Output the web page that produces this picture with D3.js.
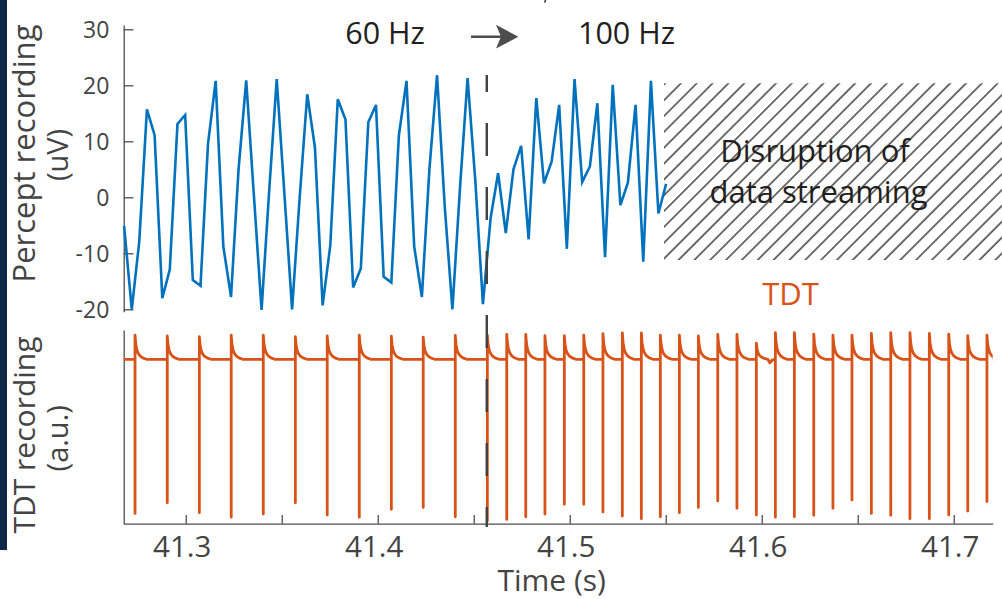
<!DOCTYPE html>
<html>
<head>
<meta charset="utf-8">
<script src="https://cdn.jsdelivr.net/npm/d3@7"></script>
<style>
  html, body { margin: 0; padding: 0; background: #fff; }
  svg { display: block; }
</style>
</head>
<body>
<script>
// ---------------- DATA ----------------
const perceptTime = [41.2679,41.2719,41.2758,41.2798,41.2838,41.2878,41.2917,41.2957,41.2997,41.3037,
  41.3077,41.3116,41.3156,41.3196,41.3236,41.3275,41.3315,41.3355,41.3395,41.3434,
  41.3474,41.3514,41.3554,41.3593,41.3633,41.3673,41.3713,41.3753,41.3792,41.3832,
  41.3872,41.3912,41.3951,41.3991,41.4031,41.4071,41.4110,41.4150,41.4190,41.4230,
  41.4269,41.4309,41.4349,41.4389,41.4429,41.4468,41.4508,41.4548,41.4588,41.4627,
  41.4667,41.4707,41.4747,41.4786,41.4826,41.4866,41.4906,41.4945,41.4985,41.5025,
  41.5065,41.5105,41.5144,41.5184,41.5224,41.5264,41.5303,41.5343,41.5383,41.5423,
  41.5462,41.5502];
const perceptUV = [-5.1,-20.0,-7.9,15.7,11.1,-18.0,-12.9,13.1,14.7,-14.8,
  -15.8,9.5,20.8,-8.8,-17.8,4.9,20.9,0.4,-20.1,0.8,
  21.1,0.6,-20.0,-0.3,18.4,8.9,-19.3,-8.6,17.5,13.9,
  -16.1,-12.7,13.4,16.5,-14.2,-15.2,11.0,20.8,-8.8,-17.8,
  4.9,21.8,-1.6,-20.0,1.9,21.3,3.1,-19.1,-3.7,4.3,
  -6.4,5.0,9.2,-7.5,17.7,2.5,6.4,16.5,-9.2,21.1,
  2.7,5.5,16.8,-10.7,20.1,-1.4,2.6,16.5,-11.5,20.8,
  -2.9,2.4];

const tdtPulseTime = [41.2736,41.2904,41.3071,41.3237,41.3404,41.3571,41.3737,41.3904,41.4071,41.4237,41.4404,41.4571,
  41.4672,41.4771,41.4871,41.4972,41.5073,41.5173,41.5274,41.5373,41.5472,41.5571,41.5670,41.5771,41.5871,
  41.5972,41.6071,41.6170,41.6271,41.6371,41.6470,41.6571,41.6672,41.6772,41.6873,41.6974,41.7073,41.7173];
const tdtPulseTop = [1.01,0.97,0.94,1.01,1.01,0.94,0.97,1.01,0.96,0.92,1.00,1.01,
  1.04,1.04,0.98,0.98,1.01,1.07,1.10,1.10,1.01,1.01,0.97,1.04,1.04,
  0.67,1.11,1.11,1.05,1.01,1.01,1.08,1.11,1.11,1.08,1.05,0.98,1.01];
const tdtPulseBottom = [-6.42,-5.98,-6.39,-6.58,-6.45,-5.98,-6.49,-6.58,-6.25,-6.17,-6.56,-6.74,
  -6.67,-6.56,-6.45,-6.04,-6.04,-6.36,-6.53,-6.64,-6.56,-6.39,-6.17,-5.90,-6.21,
  -6.49,-6.58,-6.56,-6.50,-6.21,-5.86,-6.42,-6.50,-6.64,-6.64,-6.49,-6.32,-5.93];
// shape of the artifact decay after each pulse (offset in s, fraction of pulse top)
const tdtDecayOffset = [0, 0.0004, 0.0009, 0.0016, 0.0026, 0.0040, 0.0060];
const tdtDecayFrac   = [1, 0.62, 0.40, 0.25, 0.14, 0.06, 0];
// small baseline notch after the 41.597 s pulse
const tdtNotchTime = [41.6034, 41.6042, 41.6056];
const tdtNotchValue = [-0.02, -0.15, -0.02];

const xTickValues = [41.3,41.35,41.4,41.45,41.5,41.55,41.6,41.65,41.7];
const xTickLabels = ["41.3","","41.4","","41.5","","41.6","","41.7"];
const yTickValues = [-20,-10,0,10,20,30];
const yTickLabels = ["-20","-10","0","10","20","30"];

const switchTime = 41.4568;
const disruptionTime = [41.5491, 41.7260];
const disruptionUV = [-11.2, 20.36];

// ---------------- LAYOUT ----------------
const W = 1002, H = 599;
const FONT = "'Open Sans', 'Noto Sans', sans-serif";
const AXIS = "#4d4d4d", TEXT = "#444", DARK = "#231f20";
const BLUE = "#0072bd", ORANGE = "#d95319";

const svg = d3.select("body").append("svg").attr("width", W).attr("height", H)
  .style("background", "#fff");

const x = d3.scaleLinear().domain([41.2677, 41.7203]).range([123.7, 992.7]);
const yP = d3.scaleLinear().domain([-20.43, 30.77]).range([311.7, 25]);
const yT = d3.scaleLinear().domain([-6.85, 1.22]).range([523.7, 330]);

// dark strip at left edge
svg.append("rect").attr("x", 0).attr("y", 0).attr("width", 7).attr("height", 550).attr("fill", "#0e2849");

// hatch pattern
const defs = svg.append("defs");
const pat = defs.append("pattern").attr("id", "hatch").attr("patternUnits", "userSpaceOnUse")
  .attr("width", 11.2).attr("height", 20).attr("patternTransform", "translate(664,83) rotate(45)");
pat.append("line").attr("x1", 1).attr("y1", 0).attr("x2", 1).attr("y2", 20)
  .attr("stroke", "#111").attr("stroke-width", 1.2);

defs.append("clipPath").attr("id", "clipT").append("rect")
  .attr("x", 123.7).attr("y", 320).attr("width", 992.7 - 123.7).attr("height", 210);

// ---------------- TOP PANEL ----------------
const gTopAxis = svg.append("g").attr("transform", "translate(123.7,0)")
  .call(d3.axisLeft(yP).tickValues(yTickValues).tickFormat((d, i) => yTickLabels[i])
    .tickSizeInner(-9.7).tickSizeOuter(0).tickPadding(14.4));
gTopAxis.select(".domain").attr("stroke", AXIS).attr("stroke-width", 1.3);
gTopAxis.selectAll(".tick line").attr("stroke", AXIS).attr("stroke-width", 1.3);
gTopAxis.selectAll(".tick text").attr("fill", TEXT).style("font-family", FONT).style("font-size", "23px")
  .attr("dy", "0.36em");

// hatched disruption area
svg.append("rect")
  .attr("x", x(disruptionTime[0])).attr("y", yP(disruptionUV[1]))
  .attr("width", x(disruptionTime[1]) - x(disruptionTime[0]))
  .attr("height", yP(disruptionUV[0]) - yP(disruptionUV[1]))
  .attr("fill", "url(#hatch)");

const perceptData = perceptTime.map((t, i) => [t, perceptUV[i]]);
svg.append("path").datum(perceptData)
  .attr("d", d3.line().x(d => x(d[0])).y(d => yP(d[1])))
  .attr("fill", "none").attr("stroke", BLUE).attr("stroke-width", 2.6).attr("stroke-linejoin", "miter");

svg.append("text").attr("x", 815).attr("y", 162).attr("text-anchor", "middle")
  .style("font-family", FONT).style("font-size", "31px").attr("fill", DARK).text("Disruption of");
svg.append("text").attr("x", 818.5).attr("y", 203).attr("text-anchor", "middle")
  .style("font-family", FONT).style("font-size", "31px").attr("fill", DARK).text("data streaming");

// ---------------- BOTTOM PANEL ----------------
const gBotLeft = svg.append("g").attr("transform", "translate(123.7,0)")
  .call(d3.axisLeft(yT).tickValues([]).tickSizeOuter(0));
gBotLeft.select(".domain").attr("stroke", AXIS).attr("stroke-width", 1.3);

const gX = svg.append("g").attr("transform", "translate(0,523.7)")
  .call(d3.axisBottom(x).tickValues(xTickValues).tickFormat((d, i) => xTickLabels[i])
    .tickSizeInner(-8.7).tickSizeOuter(0));
gX.select(".domain").attr("stroke", AXIS).attr("stroke-width", 1.3);
gX.selectAll(".tick line").attr("stroke", AXIS).attr("stroke-width", 1.3);
gX.selectAll(".tick text").attr("fill", TEXT).style("font-family", FONT).style("font-size", "29.5px")
  .attr("y", 33).attr("dy", 0).attr("x", -4);

// TDT trace built from pulses
const tdtPts = [[x.domain()[0], 0]];
tdtPulseTime.forEach((t, i) => {
  tdtPts.push([t, 0], [t, tdtPulseBottom[i]], [t, tdtPulseTop[i]]);
  tdtDecayOffset.forEach((o, k) => { if (k > 0) tdtPts.push([t + o, tdtPulseTop[i] * tdtDecayFrac[k]]); });
  if (i === 25) tdtNotchTime.forEach((nt, k) => tdtPts.push([nt, tdtNotchValue[k]]));
});
tdtPts.push([x.domain()[1], 0]);
svg.append("path").datum(tdtPts).attr("clip-path", "url(#clipT)")
  .attr("d", d3.line().x(d => x(d[0])).y(d => yT(d[1])))
  .attr("fill", "none").attr("stroke", ORANGE).attr("stroke-width", 2.8).attr("stroke-linejoin", "round");

svg.append("text").attr("x", 790.5).attr("y", 305).attr("text-anchor", "middle")
  .style("font-family", FONT).style("font-size", "31px").attr("fill", ORANGE).text("TDT");

// switch dashed line
svg.append("line").attr("x1", x(switchTime)).attr("x2", x(switchTime)).attr("y1", 75).attr("y2", 527)
  .attr("stroke", "#404040").attr("stroke-width", 2.4)
  .attr("stroke-dasharray", "33 31").attr("stroke-dashoffset", 16);

// ---------------- TEXT ----------------
svg.append("text").attr("x", 385).attr("y", 44).attr("text-anchor", "middle")
  .style("font-family", FONT).style("font-size", "30.5px").attr("fill", DARK).text("60 Hz");
svg.append("text").attr("x", 626.5).attr("y", 44).attr("text-anchor", "middle")
  .style("font-family", FONT).style("font-size", "30.5px").attr("fill", DARK).text("100 Hz");

// arrow
svg.append("line").attr("x1", 471).attr("y1", 36.7).attr("x2", 505).attr("y2", 36.7)
  .attr("stroke", "#4d4d4d").attr("stroke-width", 2.6);
svg.append("path").attr("d", "M518.3,36.7 L496,24.8 L501,36.7 L496,48.6 Z").attr("fill", "#4d4d4d");

// tiny cut-off mark at the top
svg.append("path").attr("d", "M545.5,0 L544.8,2.6").attr("stroke", "#333").attr("stroke-width", 1.6);

// axis titles
function vlabel(txt, cx, cy, size) {
  svg.append("text").attr("transform", `translate(${cx},${cy}) rotate(-90)`).attr("text-anchor", "middle")
    .style("font-family", FONT).style("font-size", size + "px").attr("fill", TEXT).text(txt);
}
vlabel("Percept recording", 35, 153.5, 31);
vlabel("(uV)", 68, 155, 29);
vlabel("TDT recording", 35, 435, 30);
vlabel("(a.u.)", 68, 438.3, 29);

svg.append("text").attr("x", 551.7).attr("y", 591).attr("text-anchor", "middle")
  .style("font-family", FONT).style("font-size", "30px").attr("fill", TEXT).text("Time (s)");
</script>
</body>
</html>
